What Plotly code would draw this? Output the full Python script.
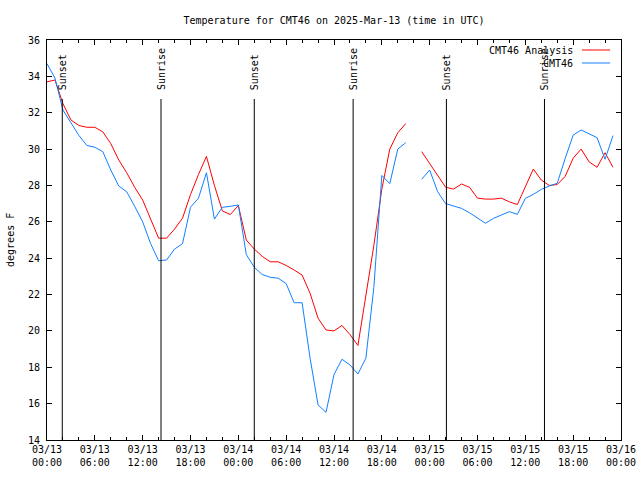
import datetime as dt
import plotly.graph_objects as go

# ---- data ----
start = "2025-03-13 00:00"
hours = list(range(72))
analysis = [33.7, 33.8, 32.5, 31.6, 31.3, 31.2, 31.2, 30.95, 30.3, 29.4, 28.7, 27.9,
            27.2, 26.2, 25.1, 25.1, 25.6, 26.2, 27.5, 28.6, 29.6, 28.0, 26.6, 26.4,
            26.9, 25.0, 24.5, 24.1, 23.8, 23.8, 23.6, 23.35, 23.07, 22.07, 20.7, 20.05,
            20.0, 20.3, 19.8, 19.2, 22.0, 24.7, 27.8, 30.0, 30.9, 31.4, None, 29.86,
            29.2, 28.5, 27.9, 27.8, 28.08, 27.9, 27.3, 27.25, 27.25, 27.3, 27.1, 26.95,
            27.95, 28.9, 28.3, 28.0, 28.05, 28.5, 29.5, 30.0, 29.3, 29.0, 29.8, 29.0]
observed = [34.7, 33.9, 32.15, 31.45, 30.75, 30.2, 30.1, 29.86, 28.85, 27.97, 27.65, 26.85,
            26.0, 24.8, 23.86, 23.9, 24.5, 24.8, 26.8, 27.3, 28.7, 26.15, 26.8, 26.85,
            26.93, 24.2, 23.5, 23.1, 22.95, 22.9, 22.6, 21.55, 21.55, 18.5, 15.93, 15.52,
            17.6, 18.44, 18.13, 17.63, 18.5, 22.4, 28.55, 28.1, 30.0, 30.35, None, 28.34,
            28.85, 27.66, 27.0, 26.87, 26.74, 26.5, 26.19, 25.92, 26.19, 26.37, 26.56, 26.41,
            27.29, 27.51, 27.78, 27.97, 28.12, 29.49, 30.77, 31.05, 30.84, 30.63, 29.44, 30.74]
sun_times = ["2025-03-13 01:55", "2025-03-13 14:18", "2025-03-14 02:00",
             "2025-03-14 14:24", "2025-03-15 02:06", "2025-03-15 14:24"]
sun_labels = ["Sunset", "Sunrise", "Sunset", "Sunrise", "Sunset", "Sunrise"]
tick_times = ["2025-03-13 00:00", "2025-03-13 06:00", "2025-03-13 12:00", "2025-03-13 18:00",
              "2025-03-14 00:00", "2025-03-14 06:00", "2025-03-14 12:00", "2025-03-14 18:00",
              "2025-03-15 00:00", "2025-03-15 06:00", "2025-03-15 12:00", "2025-03-15 18:00",
              "2025-03-16 00:00"]
tick_text = ["03/13<br>00:00", "03/13<br>06:00", "03/13<br>12:00", "03/13<br>18:00",
             "03/14<br>00:00", "03/14<br>06:00", "03/14<br>12:00", "03/14<br>18:00",
             "03/15<br>00:00", "03/15<br>06:00", "03/15<br>12:00", "03/15<br>18:00",
             "03/16<br>00:00"]
series_names = ["CMT46 Analysis", "CMT46"]
series_colors = ["#ff0000", "#1080ff"]

t0 = dt.datetime.strptime(start, "%Y-%m-%d %H:%M")
times = [t0 + dt.timedelta(hours=h) for h in hours]

FONT = "DejaVu Sans Mono"
fig = go.Figure()
for name, vals, col in zip(series_names, [analysis, observed], series_colors):
    fig.add_trace(go.Scatter(x=times, y=vals, mode="lines", name=name,
                             line=dict(color=col, width=1), connectgaps=False,
                             showlegend=False))

shapes = []
annotations = []
for t, lab in zip(sun_times, sun_labels):
    shapes.append(dict(type="line", xref="x", yref="paper", x0=t, x1=t, y0=0, y1=0.8525,
                       line=dict(color="black", width=1)))
    annotations.append(dict(x=t, y=0.87, xref="x", yref="paper", text=lab, textangle=-90,
                            showarrow=False, xanchor="center", yanchor="bottom",
                            font=dict(family=FONT, size=10, color="black")))

# legend drawn gnuplot-style (text right-aligned, sample on the right)
leg_y = [0.975, 0.9425]
for name, col, yy in zip(series_names, series_colors, leg_y):
    annotations.append(dict(x=0.9199, y=yy, xref="paper", yref="paper", text=name,
                            showarrow=False, xanchor="right", yanchor="middle",
                            font=dict(family=FONT, size=10, color="black")))
    shapes.append(dict(type="line", xref="paper", yref="paper", x0=0.932, x1=0.981,
                       y0=yy, y1=yy, line=dict(color=col, width=1)))

annotations.append(dict(x=-0.0645, y=0.5, xref="paper", yref="paper", text="degrees F",
                        textangle=-90, showarrow=False, xanchor="center", yanchor="middle",
                        font=dict(family=FONT, size=10, color="black")))

fig.update_layout(
    width=640, height=480,
    margin=dict(l=47, r=19, t=40, b=40, pad=0, autoexpand=False),
    paper_bgcolor="white", plot_bgcolor="white",
    font=dict(family=FONT, size=10, color="black"),
    title=dict(text="Temperature for CMT46 on 2025-Mar-13 (time in UTC)",
               x=0.5, xref="paper", xanchor="center", y=1 - 20 / 480, yref="container",
               yanchor="middle", font=dict(family=FONT, size=10, color="black")),
    shapes=shapes, annotations=annotations, showlegend=False,
)
fig.update_xaxes(type="date", range=[tick_times[0], tick_times[-1]],
                 tickvals=tick_times, ticktext=tick_text, ticks="inside", ticklen=5,
                 tickcolor="black", showline=True, linecolor="black", linewidth=1,
                 mirror="ticks", showgrid=False, zeroline=False, automargin=False,
                 minor=dict(dtick=2 * 3600 * 1000, ticks="inside", ticklen=3,
                            tickcolor="black", showgrid=False),
                 tickfont=dict(family=FONT, size=10, color="black"))
fig.update_yaxes(range=[14, 36], dtick=2, tick0=14, ticks="inside", ticklen=5,
                 tickcolor="black", showline=True, linecolor="black", linewidth=1,
                 mirror="ticks", showgrid=False, zeroline=False, ticklabelstandoff=4,
                 automargin=False,
                 tickfont=dict(family=FONT, size=10, color="black"))

fig.write_html("out.html", config={"displayModeBar": False},
               post_script="document.body.style.margin='0';")
